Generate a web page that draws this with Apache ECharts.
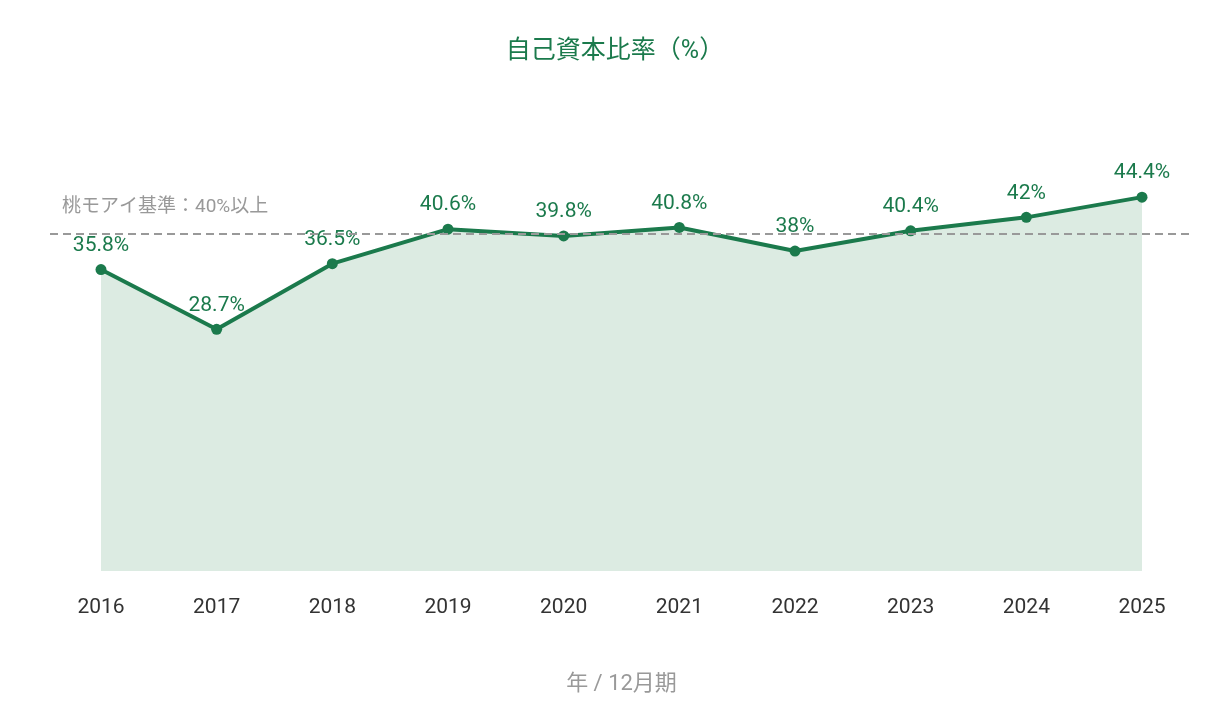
<!DOCTYPE html>
<html><head><meta charset="utf-8">
<script src="https://cdn.jsdelivr.net/npm/echarts@6/dist/echarts.min.js"></script>
<style>html,body{margin:0;padding:0;background:#fff}#c{width:1230px;height:705px}</style>
</head><body><div id="c"></div>
<script>
const categories = ['2016','2017','2018','2019','2020','2021','2022','2023','2024','2025'];
const ratioValues = [35.8, 28.7, 36.5, 40.6, 39.8, 40.8, 38, 40.4, 42, 44.4];
const benchmarkValue = 40;
const benchmarkLabel = '桃モアイ基準：40%以上';
const titleText = '自己資本比率（%）';
const xAxisName = '年 / 12月期';

const green = '#1b7a4c';
const font = 'Roboto, "Noto Sans CJK JP", sans-serif';
const chart = echarts.init(document.getElementById('c'));
chart.setOption({
  animation: false,
  textStyle: { fontFamily: font },
  title: { text: titleText, left: 'center', top: 34, textStyle: { color: green, fontSize: 25, fontWeight: 'normal', fontFamily: font } },
  grid: { left: 101, right: 88, top: 150, bottom: 134 },
  xAxis: {
    type: 'category', data: categories, boundaryGap: false,
    axisLine: { show: false }, axisTick: { show: false },
    axisLabel: { color: '#333', fontSize: 21, margin: 26, fontFamily: font },
    name: xAxisName, nameLocation: 'middle', nameGap: 102,
    nameTextStyle: { color: '#999', fontSize: 22, fontFamily: font }
  },
  yAxis: { type: 'value', min: 0, max: 50, show: false, splitLine: { show: false } },
  series: [{
    type: 'line', data: ratioValues,
    lineStyle: { color: green, width: 4 },
    itemStyle: { color: green },
    symbol: 'circle', symbolSize: 11,
    areaStyle: { color: '#dcebe2', opacity: 1 },
    label: { show: true, position: 'top', distance: 8, color: green, fontSize: 21, fontFamily: font, formatter: p => p.value + '%' },
    markLine: {
      silent: true, symbol: 'none',
      lineStyle: { color: '#999', type: [8, 5], width: 2 },
      label: { show: true, position: 'insideStartTop', formatter: benchmarkLabel, color: '#999', fontSize: 19, fontFamily: font, distance: [12, 17] },
      data: [[{ x: 50, yAxis: benchmarkValue }, { x: 1192, yAxis: benchmarkValue }]]
    }
  }]
});
</script></body></html>
